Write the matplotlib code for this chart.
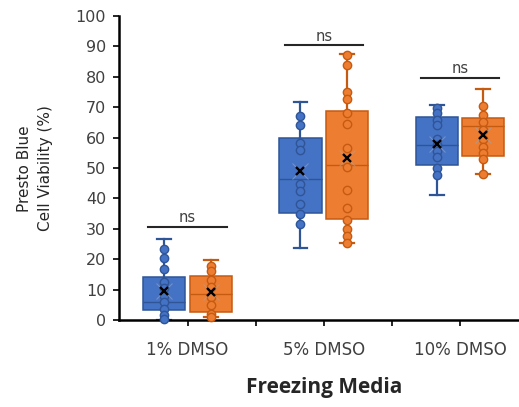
import matplotlib
matplotlib.use('Agg')
import matplotlib.pyplot as plt

# ---------------- data ----------------
categories = ['1% DMSO', '5% DMSO', '10% DMSO']

# blue series box statistics
blue_q1 = [3.3, 35.3, 50.9]
blue_med = [6.0, 46.4, 57.7]
blue_q3 = [14.0, 59.9, 66.7]
blue_lo = [0.0, 23.8, 41.1]
blue_hi = [26.8, 71.8, 70.6]
blue_mean = [9.5, 49.0, 57.9]

# orange series box statistics
orange_q1 = [2.6, 33.1, 53.9]
orange_med = [8.7, 51.0, 63.8]
orange_q3 = [14.4, 68.8, 66.4]
orange_lo = [1.0, 25.2, 48.1]
orange_hi = [19.6, 87.6, 76.0]
orange_mean = [9.3, 53.3, 60.9]

# individual points
blue_pts_1 = [23.3, 20.5, 16.7, 12.6, 10.6, 8.0, 5.8, 3.7, 1.5, 0.3]
blue_pts_5 = [67.2, 64.0, 58.3, 56.0, 44.6, 42.5, 38.1, 34.8, 31.7]
blue_pts_10 = [69.8, 68.1, 65.9, 64.0, 59.6, 57.6, 55.7, 53.5, 49.9, 47.8]
orange_pts_1 = [17.9, 16.2, 13.2, 11.0, 7.6, 5.0, 1.9, 1.0]
orange_pts_5 = [87.3, 84.0, 75.1, 72.8, 68.0, 64.6, 56.7, 50.2, 42.6, 37.0, 33.0, 30.0, 27.6, 25.3]
orange_pts_10 = [70.4, 67.3, 65.0, 62.5, 59.5, 56.8, 55.0, 53.0, 48.1]

# significance annotations
sig_labels = ['ns', 'ns', 'ns']
sig_heights = [30.6, 90.3, 79.5]

y_ticks = [0, 10, 20, 30, 40, 50, 60, 70, 80, 90, 100]

# ---------------- style ----------------
BLUE = '#4472C4'
BLUE_EDGE = '#2F5597'
ORANGE = '#ED7D31'
ORANGE_EDGE = '#C55A11'
TEXT = '#404040'

fig = plt.figure(figsize=(5.19, 4.07), dpi=100)
W, H = 519, 407
left_px, right_px, top_px, bottom_px = 119, 519, 16, 320
ax = fig.add_axes([left_px / W, 1 - bottom_px / H,
                   (right_px - left_px) / W, (bottom_px - top_px) / H])

spacing_px = 136.25
cat0_px = 187.5
ax.set_xlim(-(cat0_px - left_px) / spacing_px, (right_px - cat0_px) / spacing_px)
ax.set_ylim(0, 100)

offset = 0.171
width = 0.31


def draw_series(q1, med, q3, lo, hi, mean, pts_list, sign, face, edge):
    stats = []
    for i in range(len(categories)):
        stats.append(dict(q1=q1[i], med=med[i], q3=q3[i], whislo=lo[i],
                          whishi=hi[i], mean=mean[i], fliers=[]))
    pos = [i + sign * offset for i in range(len(categories))]
    ax.bxp(stats, positions=pos, widths=width, capwidths=0.1,
           patch_artist=True, showfliers=False, showmeans=False,
           boxprops=dict(facecolor=face, edgecolor=edge, linewidth=1.1),
           whiskerprops=dict(color=edge, linewidth=1.6),
           capprops=dict(color=edge, linewidth=1.6),
           medianprops=dict(color=edge, linewidth=1.0),
           zorder=2)
    for p, pts in zip(pos, pts_list):
        ax.plot([p] * len(pts), pts, 'o', mfc=face, mec=edge, ms=6.0,
                mew=1.0, zorder=3, clip_on=False)
    for p, m in zip(pos, mean):
        ax.plot(p, m, 'x', color='#9aa6b8', ms=11, mew=0.8, alpha=0.6, zorder=4)
        ax.plot(p, m, 'x', color='black', ms=6, mew=1.7, zorder=5)


draw_series(blue_q1, blue_med, blue_q3, blue_lo, blue_hi, blue_mean,
            [blue_pts_1, blue_pts_5, blue_pts_10], -1, BLUE, BLUE_EDGE)
draw_series(orange_q1, orange_med, orange_q3, orange_lo, orange_hi, orange_mean,
            [orange_pts_1, orange_pts_5, orange_pts_10], 1, ORANGE, ORANGE_EDGE)

# significance bars
for i, (lab, h) in enumerate(zip(sig_labels, sig_heights)):
    ax.plot([i - 0.287, i + 0.287], [h, h], color='#262626', lw=1.5, zorder=3)
    ax.text(i, h + 1.6, lab, ha='center', va='baseline', fontsize=10.5,
            color=TEXT)

# axes styling
for s in ['top', 'right']:
    ax.spines[s].set_visible(False)
ax.spines['left'].set_linewidth(1.8)
ax.spines['bottom'].set_linewidth(1.8)
ax.spines['left'].set_color('black')
ax.spines['bottom'].set_color('black')

ax.set_yticks(y_ticks)
ax.set_yticklabels([str(t) for t in y_ticks])
ax.tick_params(axis='y', direction='out', length=4.2, width=1.2, pad=5,
               labelsize=11.5, labelcolor=TEXT, color='black')

ax.set_xticks([0, 0.5, 1, 1.5, 2])
ax.set_xticklabels([categories[0], '', categories[1], '', categories[2]])
ax.tick_params(axis='x', direction='out', length=4, width=1.2, pad=11,
               labelsize=12, labelcolor=TEXT, color='black')

fig.text(35 / W, 1 - 168.5 / H, 'Presto Blue\nCell Viability (%)',
         rotation=90, ha='center', va='center', fontsize=11,
         color='#262626', multialignment='center', linespacing=1.45)

fig.text(324.5 / W, 1 - 393 / H, 'Freezing Media', ha='center',
         va='baseline', fontsize=15, fontweight='bold', family='Open Sans',
         color='#262626')

fig.savefig('out.png', dpi=100)
